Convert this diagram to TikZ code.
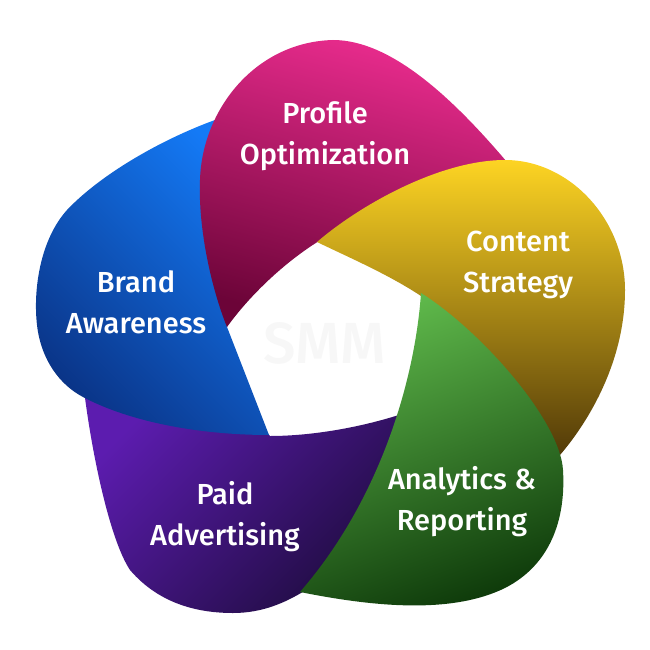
\documentclass[tikz,border=0pt]{standalone}
\usepackage{fontspec}
\newfontfamily\lbl{Fira Sans}[UprightFont=* Medium]
\definecolor{magTop}{RGB}{234,44,142}
\definecolor{magBot}{RGB}{108,4,56}
\definecolor{yelTop}{RGB}{253,212,35}
\definecolor{yelBot}{RGB}{82,58,8}
\definecolor{grnTop}{RGB}{95,185,75}
\definecolor{grnBot}{RGB}{14,58,10}
\definecolor{purTop}{RGB}{92,28,175}
\definecolor{purBot}{RGB}{30,12,62}
\definecolor{bluTop}{RGB}{20,122,246}
\definecolor{bluBot}{RGB}{10,52,135}
\begin{document}
\begin{tikzpicture}[x=1pt,y=-1pt,
  lbltext/.style={text=white, font=\lbl\fontsize{29}{41}\selectfont, align=center, inner sep=0pt},
  petalP/.style={top color=purTop, bottom color=purBot, shading angle=45},
  petalB/.style={top color=bluTop, bottom color=bluBot, shading angle=-45},
  petalM/.style={top color=magTop, bottom color=magBot, shading angle=-15},
  petalY/.style={top color=yelTop, bottom color=yelBot},
  petalG/.style={top color=grnTop, bottom color=grnBot, shading angle=20}]
\useasboundingbox (0,0) rectangle (650,650);
% purple
\shade[petalP] (84,390) .. controls (92,455) and (110,540) .. (130,570)
  .. controls (160,605) and (200,613) .. (233,613)
  .. controls (262,613) and (285,603) .. (306,590)
  -- (330,575) -- (375,510) -- (412,418) -- (405,413)
  .. controls (360,428) and (310,436) .. (270,436)
  -- (255,420) .. controls (190,415) and (120,405) .. (84,390) -- cycle;
% blue
\shade[petalB] (215,120) .. controls (160,140) and (100,175) .. (67,210)
  .. controls (40,240) and (33,290) .. (37,325)
  .. controls (41,360) and (60,385) .. (83,397)
  .. controls (130,422) and (200,435) .. (269,435)
  -- (227,327) -- (238,300) -- (230,200) -- cycle;
% magenta
\shade[petalM] (227,327) .. controls (212,290) and (198,230) .. (200,180)
  .. controls (202,110) and (255,42) .. (333,40)
  .. controls (392,40) and (455,100) .. (512,168)
  -- (340,236) -- (319,241)
  .. controls (285,262) and (250,295) .. (227,327) -- cycle;
% yellow
\shade[petalY] (317,242) .. controls (360,205) and (440,160) .. (505,160)
  .. controls (570,160) and (625,220) .. (625,290)
  .. controls (625,360) and (590,420) .. (560,455)
  -- (545,450) -- (428,312) -- (424,298)
  .. controls (390,275) and (350,258) .. (317,242) -- cycle;
% green
\shade[petalG] (421,293) .. controls (415,380) and (380,500) .. (300,592)
  .. controls (370,606) and (450,615) .. (505,588)
  .. controls (550,565) and (566,520) .. (563,470)
  .. controls (560,420) and (480,330) .. (421,293) -- cycle;
% labels
\node[text=black!3, font=\lbl\fontsize{58}{58}\selectfont, inner sep=0pt] (smm) at (325,343) {SMM};
\node[lbltext] (profile) at (325,136) {\strut Profile\\\strut Optimization};
\node[lbltext] (content) at (518,264) {\strut Content\\\strut Strategy};
\node[lbltext] (brand) at (136,305) {\strut Brand\\\strut Awareness};
\node[lbltext] (paid) at (225,517) {\strut Paid\\\strut Advertising};
\node[lbltext] (analytics) at (462,502) {\strut Analytics \&\\\strut Reporting};
\end{tikzpicture}
\end{document}
